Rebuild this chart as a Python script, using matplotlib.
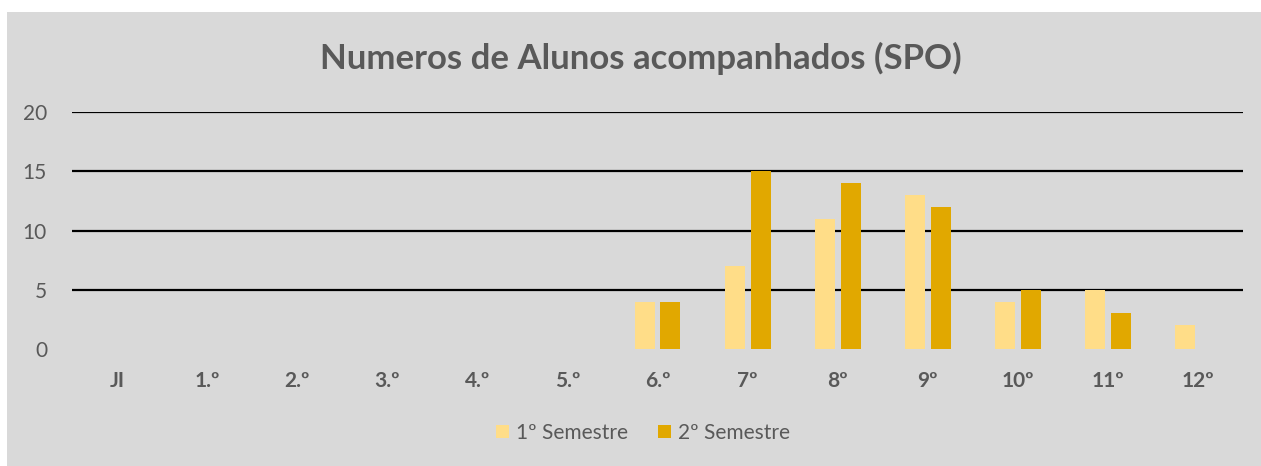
import matplotlib
matplotlib.use("Agg")
import matplotlib.pyplot as plt
from matplotlib.patches import Rectangle, Patch
import numpy as np

categories = ["JI", "1.º", "2.º", "3.º", "4.º", "5.º", "6.º", "7º", "8º", "9º", "10º", "11º", "12º"]
semestre_1 = [0, 0, 0, 0, 0, 0, 4, 7, 11, 13, 4, 5, 2]
semestre_2 = [0, 0, 0, 0, 0, 0, 4, 15, 14, 12, 5, 3, 0]
series_names = ["1º Semestre", "2º Semestre"]
y_ticks = [0, 5, 10, 15, 20]
title = "Numeros de Alunos acompanhados (SPO)"

color_1 = "#FFDD88"
color_2 = "#E1A800"
panel_bg = "#D9D9D9"
text_gray = "#595959"

plt.rcParams["font.family"] = ["Lato", "DejaVu Sans"]

W, H = 1261, 466
fig = plt.figure(figsize=(W / 100, H / 100), dpi=100)
fig.patch.set_facecolor("white")
fig.patches.append(Rectangle((7 / W, 0), 1 - 7 / W, 1 - 12 / H,
                             transform=fig.transFigure, facecolor=panel_bg,
                             edgecolor="none", zorder=-10))

ax = fig.add_axes([72 / W, 1 - 349 / H, (1243 - 72) / W, (349 - 112) / H])
ax.set_facecolor("none")

x = np.arange(len(categories))
bw = 0.222
off = 0.144
ax.bar(x - off, semestre_1, width=bw, color=color_1, zorder=3)
ax.bar(x + off, semestre_2, width=bw, color=color_2, zorder=3)

ax.set_xlim(-0.5, len(categories) - 0.5)
ax.set_ylim(0, 20)
ax.set_yticks(y_ticks)
ax.set_xticks(x)
ax.set_xticklabels(categories, fontweight="bold")
for v in y_ticks[1:]:
    ax.axhline(v, color="black", linewidth=1.6, zorder=1)

for s in ax.spines.values():
    s.set_visible(False)
ax.tick_params(axis="y", length=0, pad=18, labelsize=15, labelcolor=text_gray)
ax.tick_params(axis="x", length=0, pad=16, labelsize=15, labelcolor=text_gray)

fig.text(641 / W, 1 - 69 / H, title, ha="center", va="baseline",
         fontsize=25, fontweight="bold", color=text_gray)

handles = [Patch(facecolor=color_1, edgecolor="none"),
           Patch(facecolor=color_2, edgecolor="none")]
fig.legend(handles, series_names, loc="center", bbox_to_anchor=(643 / W, 1 - 433 / H),
           ncol=2, frameon=False, fontsize=15, labelcolor=text_gray,
           handlelength=0.63, handleheight=0.63, handletextpad=0.35,
           columnspacing=1.4)

fig.savefig("out.png", dpi=100, facecolor=fig.get_facecolor())
